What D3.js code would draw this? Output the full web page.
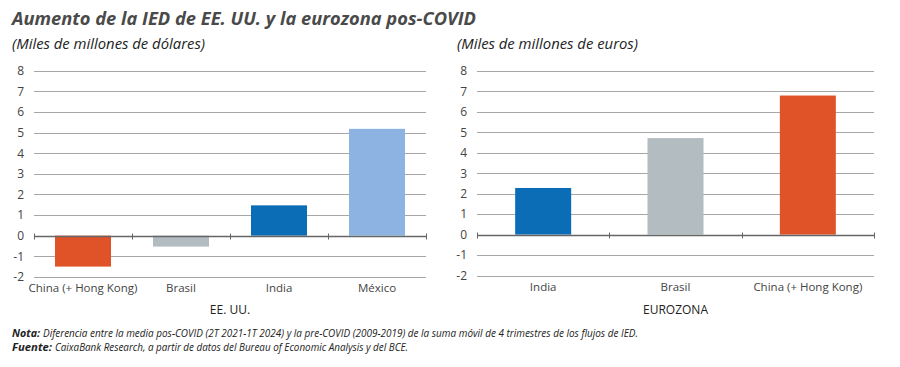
<!DOCTYPE html>
<html><head><meta charset="utf-8">
<script src="https://cdn.jsdelivr.net/npm/d3@7"></script>
<style>body{margin:0;background:#fff}svg{display:block}</style>
</head><body>
<script>
const usCategories = ["China (+ Hong Kong)", "Brasil", "India", "México"];
const usValues = [-1.5, -0.53, 1.47, 5.18];
const usColors = ["#e05328", "#b2bcc1", "#0a6db5", "#8cb3e1"];
const ezCategories = ["India", "Brasil", "China (+ Hong Kong)"];
const ezValues = [2.28, 4.72, 6.8];
const ezColors = ["#0a6db5", "#b2bcc1", "#e05328"];
const yTicks = [-2, -1, 0, 1, 2, 3, 4, 5, 6, 7, 8];

const W = 900, H = 367;
const svg = d3.select("body").append("svg").attr("width", W).attr("height", H);
const font = "'Open Sans', sans-serif";

svg.append("text").attr("x", 12).attr("y", 25)
  .attr("font-family", font).attr("font-size", 17.5).attr("font-weight", 700).attr("font-style", "italic")
  .attr("fill", "#4a4a4a").attr("textLength", 464).attr("lengthAdjust", "spacingAndGlyphs")
  .text("Aumento de la IED de EE. UU. y la eurozona pos-COVID");

function panel(opts) {
  const y = d3.scaleLinear().domain([-2, 8]).range([opts.y0, opts.y1]);
  const x = d3.scaleBand().domain(opts.cats).range([opts.x0, opts.x1]).padding(0);
  const g = svg.append("g");

  g.append("text").attr("x", opts.subX).attr("y", 49)
    .attr("font-family", font).attr("font-size", 14).attr("font-style", "italic").attr("fill", "#222")
    .attr("textLength", opts.subLen).attr("lengthAdjust", "spacingAndGlyphs")
    .text(opts.subtitle);

  // gridlines
  g.selectAll("line.grid").data(yTicks.filter(d => d !== 0)).join("line")
    .attr("x1", opts.x0).attr("x2", opts.x1)
    .attr("y1", d => Math.round(y(d)) + 0.5).attr("y2", d => Math.round(y(d)) + 0.5)
    .attr("stroke", "#a6a6a6").attr("stroke-width", 1);

  // y labels
  const yAxis = d3.axisLeft(y).tickValues(yTicks).tickSize(0).tickPadding(0).tickFormat(d => String(d));
  const ya = g.append("g").attr("transform", `translate(${opts.labX},0)`).call(yAxis);
  ya.select(".domain").remove();
  ya.selectAll("text").attr("font-family", font).attr("font-size", 12).attr("fill", "#444");

  // bars
  const bw = 56;
  g.selectAll("rect").data(opts.vals).join("rect")
    .attr("x", (d, i) => x(opts.cats[i]) + x.bandwidth() / 2 - bw / 2)
    .attr("width", bw)
    .attr("y", d => y(Math.max(0, d)))
    .attr("height", d => Math.abs(y(d) - y(0)))
    .attr("fill", (d, i) => opts.colors[i]);

  // zero axis with category ticks
  const z = Math.round(y(0)) + 0.5;
  g.append("line").attr("x1", opts.x0).attr("x2", opts.x1).attr("y1", z).attr("y2", z)
    .attr("stroke", "#666").attr("stroke-width", 1.3);
  const bounds = [opts.x0].concat(opts.cats.map(c => x(c) + x.bandwidth()));
  g.selectAll("line.tk").data(bounds).join("line")
    .attr("x1", d => Math.round(d) + 0.5).attr("x2", d => Math.round(d) + 0.5)
    .attr("y1", z - 3).attr("y2", z + 3).attr("stroke", "#666").attr("stroke-width", 1);

  // category labels
  const xAxis = d3.axisBottom(x).tickSize(0).tickPadding(0);
  const xa = g.append("g").attr("transform", `translate(0,${opts.y0 + 7})`).call(xAxis);
  xa.select(".domain").remove();
  xa.selectAll("line").remove();
  xa.selectAll("text").attr("font-family", font).attr("font-size", 11.5).attr("fill", "#444");

  g.append("text").attr("x", (opts.x0 + opts.x1) / 2).attr("y", 314).attr("text-anchor", "middle")
    .attr("font-family", font).attr("font-size", 12).attr("fill", "#222").text(opts.title);
}

panel({cats: usCategories, vals: usValues, colors: usColors, x0: 34, x1: 426, y0: 276.9, y1: 70.7,
  labX: 24, subtitle: "(Miles de millones de dólares)", subX: 12, subLen: 193, title: "EE. UU."});
panel({cats: ezCategories, vals: ezValues, colors: ezColors, x0: 477, x1: 874, y0: 275.5, y1: 71,
  labX: 467, subtitle: "(Miles de millones de euros)", subX: 457, subLen: 181, title: "EUROZONA"});

function footLine(yb, label, labLen, rest, restX, restLen) {
  svg.append("text").attr("x", 12).attr("y", yb).attr("font-family", font).attr("font-size", 10.5)
    .attr("font-style", "italic").attr("font-weight", 700).attr("fill", "#222")
    .attr("textLength", labLen).attr("lengthAdjust", "spacingAndGlyphs").text(label);
  svg.append("text").attr("x", restX).attr("y", yb).attr("font-family", font).attr("font-size", 10.5)
    .attr("font-style", "italic").attr("fill", "#222")
    .attr("textLength", restLen).attr("lengthAdjust", "spacingAndGlyphs").text(rest);
}
footLine(337, "Nota:", 28,
  "Diferencia entre la media pos-COVID (2T 2021-1T 2024) y la pre-COVID (2009-2019) de la suma móvil de 4 trimestres de los flujos de IED.",
  43, 595);
footLine(351, "Fuente:", 40,
  "CaixaBank Research, a partir de datos del Bureau of Economic Analysis y del BCE.",
  55, 353);
</script>
</body></html>
